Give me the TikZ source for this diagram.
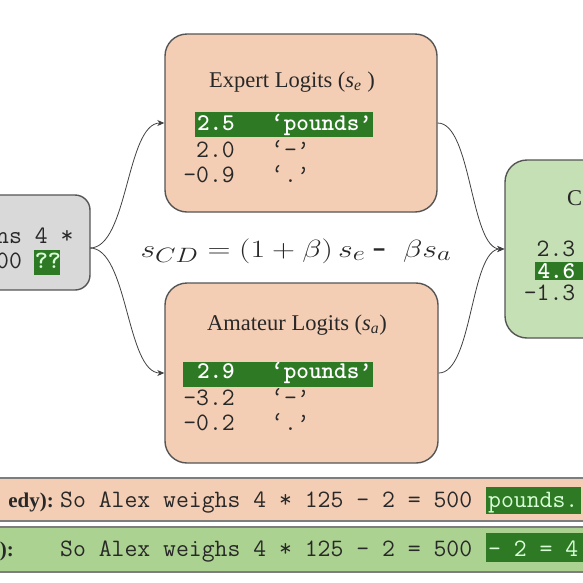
\documentclass[tikz,border=0pt]{standalone}
\usepackage{fontspec}
\usepackage{graphicx}
\setmainfont{Liberation Serif}
\setmonofont{Latin Modern Mono}
\newfontfamily\monobf{lmmonolt10-bold.otf}
\usetikzlibrary{arrows.meta}
\definecolor{peach}{RGB}{243,206,181}
\definecolor{lgreen}{RGB}{198,224,181}
\definecolor{bgreen}{RGB}{172,210,146}
\definecolor{lgray}{RGB}{217,217,217}
\definecolor{hlgreen}{RGB}{46,122,36}
\definecolor{edge}{RGB}{85,85,85}
\definecolor{baredge}{RGB}{125,125,125}
\definecolor{txt}{RGB}{40,40,40}
\tikzset{
  box/.style={draw=edge, line width=1.4pt, rounded corners=22pt, inner sep=0pt},
  bar/.style={draw=baredge, line width=1.8pt, inner sep=0pt, minimum width=640, minimum height=43},
  mono/.style={font=\fontsize{25}{25}\ttfamily, text=txt, inner sep=0pt, anchor=base west},
  monor/.style={font=\fontsize{25}{25}\ttfamily, text=txt, inner sep=0pt, anchor=base east},
  monob/.style={font=\fontsize{24}{24}\monobf, text=white, inner sep=0pt, anchor=base west},
  monobr/.style={font=\fontsize{24}{24}\monobf, text=white, inner sep=0pt, anchor=base east},
  cdrow/.style={text height=13pt, text depth=2pt},
  title/.style={font=\fontsize{22.5}{22.5}\selectfont, text=txt, inner sep=0pt, anchor=base},
  lab/.style={font=\fontsize{21}{21}\selectfont\bfseries, text=txt, inner sep=0pt, anchor=base east},
  hl/.style={fill=hlgreen},
  conn/.style={draw=black!75, line width=0.8pt, -{Stealth[length=7pt,width=6pt]}}
}
\begin{document}
\begin{tikzpicture}[x=1pt,y=-1pt]
\useasboundingbox (0,0) rectangle (583,582);
\clip (0,0) rectangle (583,582);

% boxes
\node[box, fill=lgray, rounded corners=15pt, minimum width=110, minimum height=95] (input) at (35,242.5) {};
\node[box, fill=peach, minimum width=272, minimum height=178] (expert) at (301,123) {};
\node[box, fill=peach, minimum width=273, minimum height=180] (amateur) at (301.5,373) {};
\node[box, fill=lgreen, minimum width=150, minimum height=178] (cd) at (580,249) {};

% input text
\fill[hl] (34,250) rectangle (60,275);
\node[mono] (in1) at (-4,243) {ns 4 *};
\node[mono] (in2) at (-4,268) {00 \textcolor{white!85!green}{\monobf ??}};

% expert
\node[title] (etitle) at (292,87) {Expert Logits (\textit{s}\textsubscript{\textit{e}} )};
\fill[hl] (195,112) rectangle (373,137);
\node[monobr] (e1n) at (235,130) {2.5};
\node[monob] (e1t) at (271,130) {‘pounds’};
\node[monor] (e2n) at (235,157) {2.0};
\node[mono] (e2t) at (271,157) {‘-’};
\node[monor] (e3n) at (235,182) {-0.9};
\node[mono] (e3t) at (271,182) {‘.’};

% amateur
\node[title] (atitle) at (297,330) {Amateur Logits (\textit{s}\textsubscript{\textit{a}})};
\fill[hl] (183,362) rectangle (373,387);
\node[monobr] (a1n) at (235,378) {2.9};
\node[monob] (a1t) at (271,378) {‘pounds’};
\node[monor] (a2n) at (235,405) {-3.2};
\node[mono] (a2t) at (271,405) {‘-’};
\node[monor] (a3n) at (235,430) {-0.2};
\node[mono] (a3t) at (271,430) {‘.’};

% contrastive
\node[title, anchor=base west] (ctitle) at (567,205) {C};
\node[monor, cdrow] (c1n) at (575.5,256) {2.3};
\fill[hl] (535,262) rectangle (590,280);
\node[monobr, cdrow] (c2n) at (575.5,278) {4.6};
\node[monor, cdrow] (c3n) at (575.5,300) {-1.3};

% equation
\node[inner sep=0pt, text=txt] (eq) at (296,251) {\scalebox{1.28}[1]{\fontsize{32}{32}\selectfont $s_{CD} = (1+\beta)\, s_e$\,-\ \,$\beta s_a$}};

% connectors
\coordinate (jl) at (90,248);
\draw[conn] (jl) .. controls +(38,0) and +(-38,0) .. (expert.west);
\draw[conn] (jl) .. controls +(38,0) and +(-38,0) .. (amateur.west);
\draw[conn] (expert.east) .. controls +(34,0) and +(-34,0) .. (cd.west);
\draw[conn] (amateur.east) .. controls +(34,0) and +(-34,0) .. (cd.west);

% bottom bars
\node[bar, fill=peach] (greedy) at (290,499.5) {};
\node[bar, fill=bgreen, minimum height=45] (cdbar) at (290,549.5) {};
\node[lab] (gl) at (54,507) {edy):};
\node[mono] (gt) at (60,507) {So Alex weighs 4 * 125 - 2 = 500};
\fill[hl] (486,487) rectangle (581,514);
\node[mono, text=white!85!green] (gh) at (488,507) {pounds.};
\node[lab] (cl) at (14,556) {):};
\node[mono] (ct) at (60,556) {So Alex weighs 4 * 125 - 2 = 500};
\fill[hl] (486,533) rectangle (590,562);
\node[mono, text=white!85!green] (ch) at (488,556) {- 2 = 4};
\end{tikzpicture}
\end{document}
